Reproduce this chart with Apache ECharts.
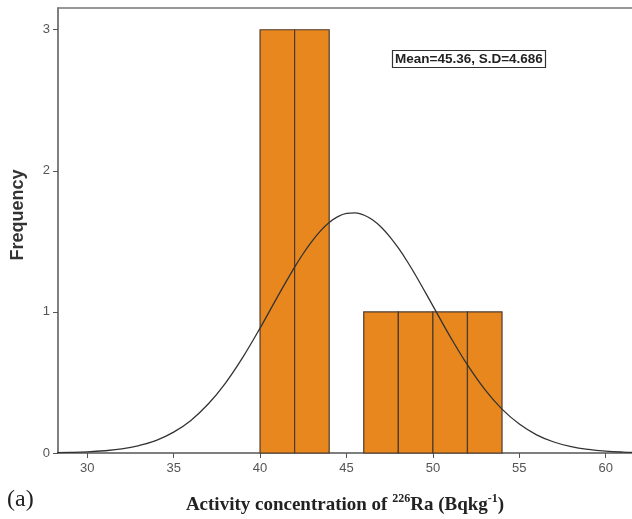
<!DOCTYPE html>
<html>
<head>
<meta charset="utf-8">
<script src="https://cdn.jsdelivr.net/npm/echarts@6/dist/echarts.min.js"></script>
<style>
  html, body { margin: 0; padding: 0; background: #fff; }
  #chart { width: 632px; height: 519px; }
</style>
</head>
<body>
<div id="chart"></div>
<script>
// histogram bins (Bqkg-1) and counts
var binStart = [40, 42, 46, 48, 50, 52];
var binEnd = [42, 44, 48, 50, 52, 54];
var counts = [3, 3, 1, 1, 1, 1];

// normal curve
var curveX = [28, 29, 30, 31, 32, 33, 34, 35, 36, 37, 38, 39, 40, 41, 42, 42.5, 43, 43.5, 44, 44.5, 45, 45.5, 46, 46.5, 47, 47.5, 48, 48.5, 49, 50, 51, 52, 53, 54, 55, 56, 57, 58, 59, 60, 61, 62];
var curveY = [0.002, 0.004, 0.008, 0.016, 0.029, 0.053, 0.09, 0.148, 0.231, 0.347, 0.496, 0.678, 0.885, 1.105, 1.317, 1.414, 1.5, 1.574, 1.633, 1.675, 1.698, 1.702, 1.687, 1.653, 1.602, 1.534, 1.453, 1.361, 1.26, 1.043, 0.825, 0.624, 0.451, 0.311, 0.205, 0.129, 0.078, 0.045, 0.025, 0.013, 0.0065, 0.003];

var xTicks = [30, 35, 40, 45, 50, 55, 60];
var yTicks = [0, 1, 2, 3];

var bars = binStart.map(function (s, i) { return [s, binEnd[i], counts[i]]; });
var curve = curveX.map(function (x, i) { return [x, curveY[i]]; });

var xMin = 28.31, xMax = 61.52;

var chart = echarts.init(document.getElementById('chart'));
chart.setOption({
  animation: false,
  grid: { left: 58, top: 8, right: 0, bottom: 66, containLabel: false, outerBoundsMode: 'none' },
  title: {
    text: 'Mean=45.36, S.D=4.686',
    left: 392, top: 50,
    padding: [2, 3],
    borderColor: '#333', borderWidth: 1.2,
    textStyle: { fontFamily: 'Liberation Sans', fontWeight: 'bold', fontSize: 13.5, color: '#222' }
  },
  xAxis: [{
    type: 'value', min: xMin, max: xMax,
    axisLine: { lineStyle: { color: '#555', width: 1.5 } },
    axisTick: { customValues: xTicks, length: 5, lineStyle: { color: '#555' } },
    axisLabel: { customValues: xTicks, color: '#555', fontSize: 13, fontFamily: 'Liberation Sans', margin: 9 },
    splitLine: { show: false },
    name: '{b|Activity concentration of }{s|226}{b|Ra (Bqkg}{s|-1}{b|)}',
    nameLocation: 'middle', nameGap: 40,
    nameTextStyle: {
      rich: {
        b: { fontFamily: 'Liberation Serif', fontWeight: 'bold', fontSize: 19, color: '#222', verticalAlign: 'bottom', lineHeight: 22 },
        s: { fontFamily: 'Liberation Serif', fontWeight: 'bold', fontSize: 12, color: '#222', verticalAlign: 'top', lineHeight: 22, padding: [0, 0, 9, 0] }
      }
    }
  }, {
    // top frame line
    type: 'value', position: 'top', min: xMin, max: xMax,
    axisLine: { show: true, lineStyle: { color: '#777', width: 1.5 } },
    axisTick: { show: false }, axisLabel: { show: false }, splitLine: { show: false }
  }],
  yAxis: {
    type: 'value', min: 0, max: 3.154,
    axisLine: { show: true, lineStyle: { color: '#555', width: 1.5 } },
    axisTick: { show: true, customValues: yTicks, length: 5, lineStyle: { color: '#555' } },
    axisLabel: { customValues: yTicks, color: '#555', fontSize: 13, fontFamily: 'Liberation Sans', margin: 8 },
    splitLine: { show: false }
  },
  graphic: [
    {
      type: 'text', x: 18, y: 215, rotation: Math.PI / 2,
      style: { text: 'Frequency', fontFamily: 'Liberation Sans', fontWeight: 'bold', fontSize: 18, fill: '#333', align: 'center', verticalAlign: 'middle' }
    },
    {
      type: 'text', left: 7, top: 488,
      style: { text: '(a)', fontFamily: 'Liberation Serif', fontSize: 24, fill: '#222' }
    }
  ],
  series: [
    {
      type: 'custom',
      data: bars,
      encode: { x: [0, 1], y: 2 },
      renderItem: function (params, api) {
        var p0 = api.coord([api.value(0), api.value(2)]);
        var p1 = api.coord([api.value(1), 0]);
        return {
          type: 'rect',
          shape: { x: p0[0], y: p0[1], width: p1[0] - p0[0], height: p1[1] - p0[1] },
          style: { fill: '#E8871E', stroke: '#4d3b2c', lineWidth: 1.2 }
        };
      },
      z: 2
    },
    {
      type: 'line',
      data: curve,
      smooth: 0.4,
      symbol: 'none',
      lineStyle: { color: '#333', width: 1.3 },
      z: 3
    }
  ]
});
</script>
</body>
</html>
